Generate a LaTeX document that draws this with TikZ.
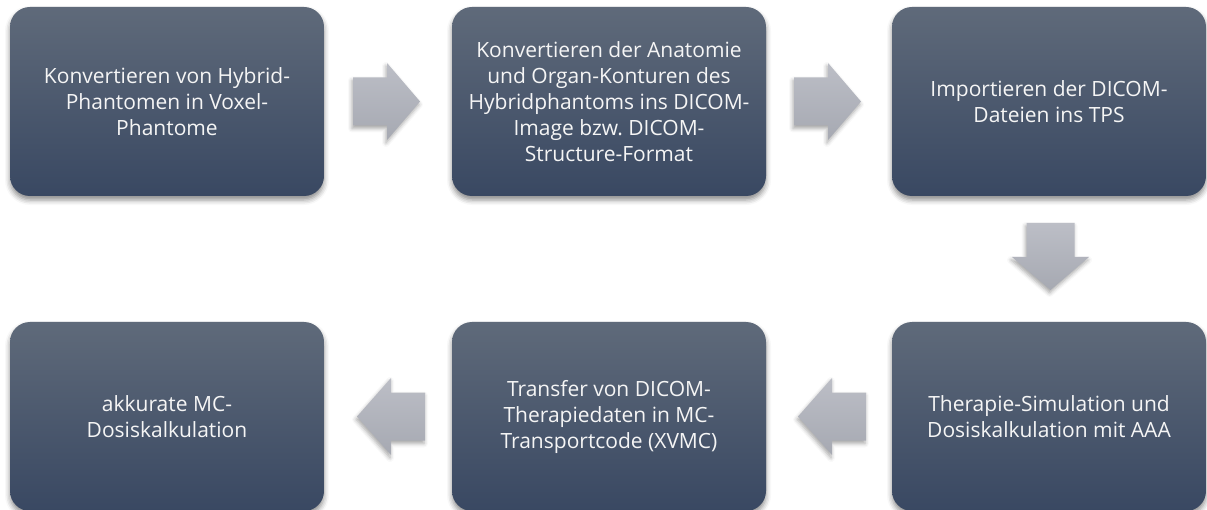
\documentclass[tikz,border=0pt]{standalone}
\usepackage{fontspec}
\setmainfont{Open Sans}
\frenchspacing
\usetikzlibrary{shadows.blur,calc}
\definecolor{boxtop}{RGB}{95,106,122}
\definecolor{boxbot}{RGB}{57,72,98}
\definecolor{arrtop}{RGB}{188,190,198}
\definecolor{arrbot}{RGB}{166,169,178}
\definecolor{txt}{RGB}{245,245,245}
\tikzset{
  stepbox/.style={rounded corners=20pt, minimum width=314pt, minimum height=189pt,
    top color=boxtop, bottom color=boxbot, draw=none, text=txt, align=center,
    font=\fontsize{21}{26}\selectfont, inner sep=0pt,
    blur shadow={shadow xshift=0pt, shadow yshift=-4pt, shadow blur radius=5pt, shadow opacity=45}},
  blockarrow/.style={top color=arrtop, bottom color=arrbot, draw=none,
    blur shadow={shadow xshift=-1pt, shadow yshift=-3pt, shadow blur radius=4pt, shadow opacity=35}},
  pics/rarrow/.style={code={\path[blockarrow] (-33.5,-24) -- (0.5,-24) -- (0.5,-38.5) -- (33.5,0) -- (0.5,38.5) -- (0.5,24) -- (-33.5,24) -- cycle;}},
  pics/larrow/.style={code={\path[blockarrow] (34,-24) -- (0,-24) -- (0,-38.5) -- (-34,0) -- (0,38.5) -- (0,24) -- (34,24) -- cycle;}},
  pics/darrow/.style={code={\path[blockarrow] (-24,-33.5) -- (24,-33.5) -- (24,0.5) -- (38.5,0.5) -- (0,33.5) -- (-38.5,0.5) -- (-24,0.5) -- cycle;}},
}
\begin{document}
\begin{tikzpicture}[x=1pt,y=-1pt]
\useasboundingbox (0,0) rectangle (1207,510);
\node[stepbox] (b1) at (167,101.5) {Konvertieren von Hybrid-\\Phantomen in Voxel-\\Phantome};
\node[stepbox] (b2) at (609,101.5) {Konvertieren der Anatomie\\und Organ-Konturen des\\Hybridphantoms ins DICOM-\\Image bzw. DICOM-\\Structure-Format};
\node[stepbox] (b3) at (1049,101.5) {Importieren der DICOM-\\Dateien ins TPS};
\node[stepbox] (b6) at (1049,416.5) {Therapie-Simulation und\\Dosiskalkulation mit AAA};
\node[stepbox] (b5) at (609,416.5) {Transfer von DICOM-\\Therapiedaten in MC-\\Transportcode (XVMC)};
\node[stepbox] (b4) at (167,416.5) {akkurate MC-\\Dosiskalkulation};
\pic (a1) at ($($(b1.east)!0.5!(b2.west)$)+(-1.5,0)$) {rarrow};
\pic (a2) at ($($(b2.east)!0.5!(b3.west)$)+(-1.5,0)$) {rarrow};
\pic (a3) at ($($(b3.south)!0.5!(b6.north)$)+(1.5,-2.5)$) {darrow};
\pic (a4) at ($($(b6.west)!0.5!(b5.east)$)+(3,0)$) {larrow};
\pic (a5) at ($($(b5.west)!0.5!(b4.east)$)+(3,0)$) {larrow};
\end{tikzpicture}
\end{document}
